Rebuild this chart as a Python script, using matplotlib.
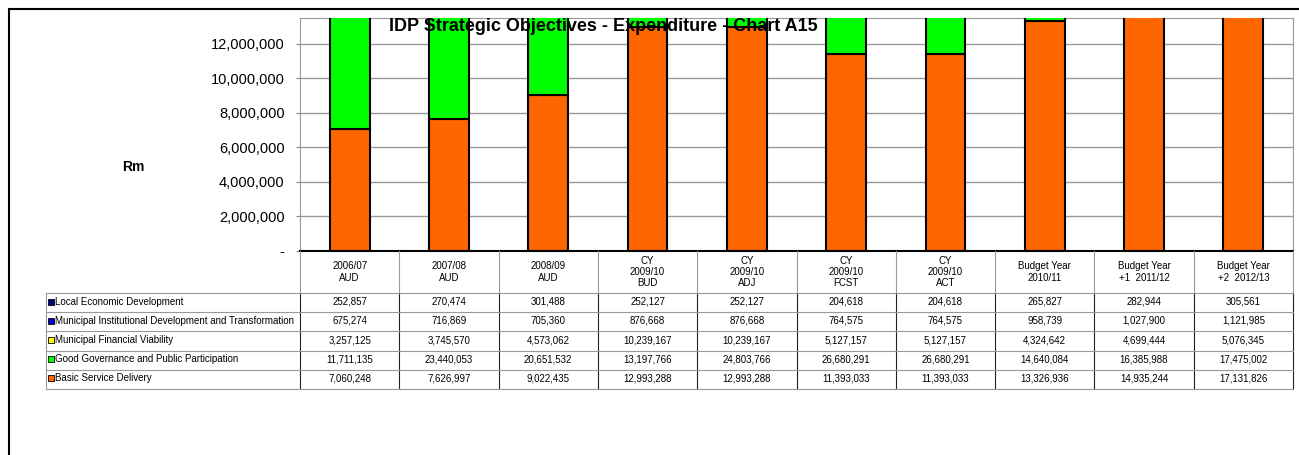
import matplotlib.pyplot as plt
from matplotlib.patches import Rectangle
from matplotlib.ticker import FuncFormatter

plt.rcParams['font.family'] = ['Liberation Sans', 'DejaVu Sans']

columns = ["2006/07\nAUD", "2007/08\nAUD", "2008/09\nAUD", "CY\n2009/10\nBUD",
           "CY\n2009/10\nADJ", "CY\n2009/10\nFCST", "CY\n2009/10\nACT",
           "Budget Year\n2010/11", "Budget Year\n+1  2011/12", "Budget Year\n+2  2012/13"]

# stacking order, bottom first
series = ["Basic Service Delivery", "Good Governance and Public Participation",
          "Municipal Financial Viability",
          "Municipal Institutional Development and Transformation",
          "Local Economic Development"]
colors = ["#FF6600", "#00FF00", "#FFFF00", "#0000CC", "#000080"]

basic = [7060248, 7626997, 9022435, 12993288, 12993288, 11393033, 11393033, 13326936, 14935244, 17131826]
governance = [11711135, 23440053, 20651532, 13197766, 24803766, 26680291, 26680291, 14640084, 16385988, 17475002]
financial = [3257125, 3745570, 4573062, 10239167, 10239167, 5127157, 5127157, 4324642, 4699444, 5076345]
institutional = [675274, 716869, 705360, 876668, 876668, 764575, 764575, 958739, 1027900, 1121985]
local_econ = [252857, 270474, 301488, 252127, 252127, 204618, 204618, 265827, 282944, 305561]
values = [basic, governance, financial, institutional, local_econ]

W, H = 1299, 455
fig = plt.figure(figsize=(W / 100, H / 100), dpi=100)

# outer frame
fig.patches.append(Rectangle((9 / W, -0.2), 1.2, 1.2 - 9 / H, transform=fig.transFigure,
                             fill=False, edgecolor="black", linewidth=1.5))

ax_l, ax_r, ax_t, ax_b = 300, 1293, 18, 251
ax = fig.add_axes([ax_l / W, 1 - ax_b / H, (ax_r - ax_l) / W, (ax_b - ax_t) / H])
x = list(range(len(columns)))
bottom = [0] * len(columns)
for name, vals, c in zip(series, values, colors):
    ax.bar(x, vals, 0.4, bottom=bottom, color=c, edgecolor="black", linewidth=1.5, zorder=3)
    bottom = [b + v for b, v in zip(bottom, vals)]

ax.set_xlim(-0.5, len(columns) - 0.5)
ax.set_ylim(0, 13.5e6)
ax.set_yticks(range(0, 13000000, 2000000))
ax.yaxis.set_major_formatter(FuncFormatter(lambda v, p: "-" if v == 0 else f"{int(v):,}"))
ax.tick_params(axis="y", labelsize=10.5, length=3, color="#808080", pad=8)
ax.set_xticks([])
ax.grid(axis="y", color="#999999", linewidth=1, zorder=0)
for s in ["left", "right", "top"]:
    ax.spines[s].set_color("#999999")
ax.spines["bottom"].set_color("black")
ax.spines["bottom"].set_linewidth(1.5)
ax.spines["bottom"].set_zorder(4)

ax.text(0.305, 0.965, "IDP Strategic Objectives - Expenditure - Chart A15", transform=ax.transAxes,
        ha="center", va="center", fontsize=13, fontweight="bold", zorder=5)
fig.text(133 / W, 1 - 167 / H, "Rm", ha="center", va="center", fontsize=10, fontweight="bold")

# table underneath, x in category units, y in pixels from header top
tab_b = 389
tax = fig.add_axes([ax_l / W, 1 - tab_b / H, (ax_r - ax_l) / W, (tab_b - ax_b) / H])
tax.set_xlim(-0.5, len(columns) - 0.5)
tax.set_ylim(tab_b - ax_b, 0)
tax.axis("off")
head_h = 42
row_h = (tab_b - ax_b - head_h) / len(series)
per_px = len(columns) / (ax_r - ax_l)
lab_left = -0.5 - (ax_l - 46) * per_px

for i, col in enumerate(columns):
    tax.text(i, head_h / 2, col, ha="center", va="center", fontsize=7, linespacing=1.15)
# vertical lines
for i in range(len(columns) + 1):
    xe = i - 0.5
    tax.plot([xe, xe], [0, head_h], color="#999999", lw=0.8, clip_on=False)
    tax.plot([xe, xe], [head_h, tab_b - ax_b], color="#222222", lw=0.8, clip_on=False)
tax.plot([lab_left, lab_left], [head_h, tab_b - ax_b], color="#999999", lw=0.8, clip_on=False)
# horizontal lines
for r in range(len(series) + 1):
    yy = head_h + r * row_h
    tax.plot([lab_left, len(columns) - 0.5], [yy, yy], color="#999999", lw=0.8, clip_on=False)

rows = list(zip(series, values, colors))[::-1]
for r, (name, vals, c) in enumerate(rows):
    yc = head_h + (r + 0.45) * row_h
    tax.scatter([lab_left + 5 * per_px], [yc], s=14, marker="s", color=c, edgecolors="black",
                linewidths=0.6, clip_on=False, zorder=3)
    tax.text(lab_left + 9 * per_px, yc, name, ha="left", va="center", fontsize=7)
    for i, v in enumerate(vals):
        tax.text(i, yc, f"{v:,}", ha="center", va="center", fontsize=7)

fig.savefig("out.png", dpi=100)
